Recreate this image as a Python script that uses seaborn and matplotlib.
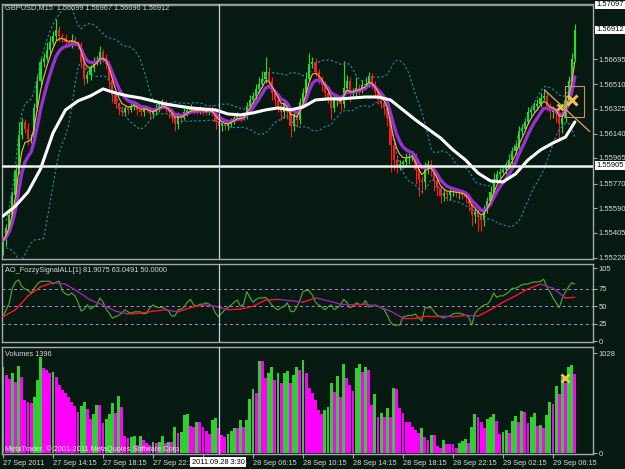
import numpy as np
import pandas as pd
import matplotlib
matplotlib.use("Agg")
import matplotlib.pyplot as plt
import matplotlib.transforms as mtransforms
from matplotlib.patches import Rectangle
import seaborn as sns

# GBPUSD M15, 27-29 Sep 2011
first_open = 1.5530
close = [1.5535, 1.5544, 1.5554, 1.5569, 1.5587, 1.5613, 1.5623, 1.5618, 1.5610, 1.5611,
         1.5633, 1.5653, 1.5667, 1.5670, 1.5676, 1.5682, 1.5687, 1.5691, 1.5687, 1.5685,
         1.5682, 1.5681, 1.5684, 1.5681, 1.5680, 1.5667, 1.5655, 1.5658, 1.5663, 1.5667,
         1.5669, 1.5675, 1.5670, 1.5666, 1.5654, 1.5643, 1.5636, 1.5632, 1.5630, 1.5633,
         1.5632, 1.5635, 1.5636, 1.5632, 1.5630, 1.5633, 1.5632, 1.5629, 1.5630, 1.5633,
         1.5635, 1.5637, 1.5633, 1.5630, 1.5626, 1.5621, 1.5627, 1.5626, 1.5630, 1.5632,
         1.5633, 1.5632, 1.5631, 1.5632, 1.5631, 1.5630, 1.5632, 1.5630, 1.5623, 1.5620,
         1.5621, 1.5620, 1.5621, 1.5624, 1.5626, 1.5627, 1.5626, 1.5627, 1.5635, 1.5639,
         1.5642, 1.5647, 1.5651, 1.5655, 1.5660, 1.5653, 1.5644, 1.5639, 1.5635, 1.5630,
         1.5636, 1.5630, 1.5620, 1.5628, 1.5624, 1.5638, 1.5644, 1.5655, 1.5666, 1.5667,
         1.5660, 1.5655, 1.5650, 1.5644, 1.5641, 1.5633, 1.5639, 1.5639, 1.5636, 1.5648,
         1.5653, 1.5644, 1.5645, 1.5648, 1.5647, 1.5650, 1.5651, 1.5657, 1.5651, 1.5645,
         1.5639, 1.5637, 1.5633, 1.5626, 1.5606, 1.5595, 1.5591, 1.5592, 1.5593, 1.5596,
         1.5597, 1.5598, 1.5587, 1.5580, 1.5578, 1.5589, 1.5592, 1.5589, 1.5580, 1.5574,
         1.5568, 1.5570, 1.5569, 1.5571, 1.5571, 1.5570, 1.5570, 1.5569, 1.5567, 1.5562,
         1.5554, 1.5556, 1.5552, 1.5550, 1.5558, 1.5564, 1.5571, 1.5580, 1.5584, 1.5586,
         1.5587, 1.5590, 1.5595, 1.5601, 1.5605, 1.5616, 1.5618, 1.5623, 1.5630, 1.5632,
         1.5635, 1.5636, 1.5641, 1.5642, 1.5635, 1.5630, 1.5632, 1.5629, 1.5621, 1.5626,
         1.5639, 1.5653, 1.56699, 1.56912]

# wick length beyond the body, in pips
wick_hi = [2, 3, 4, 3, 5, 10, 3, 2, 4, 3, 4, 5, 3, 4, 6, 5, 3, 8, 3, 2,
           3, 2, 4, 3, 2, 2, 3, 3, 2, 4, 3, 4, 2, 3, 2, 2, 3, 2, 3, 2,
           2, 3, 2, 2, 3, 2, 2, 3, 2, 3, 2, 3, 2, 2, 3, 2, 3, 2, 3, 2,
           3, 2, 2, 3, 2, 2, 2, 3, 2, 2, 2, 2, 3, 2, 2, 3, 2, 3, 3, 4,
           3, 4, 5, 6, 11, 4, 3, 2, 3, 2, 3, 2, 2, 4, 3, 3, 4, 5, 8, 4,
           3, 2, 2, 3, 2, 2, 4, 3, 2, 20, 5, 3, 3, 8, 3, 4, 5, 3, 2, 2,
           2, 3, 2, 2, 2, 2, 3, 3, 2, 4, 3, 3, 2, 2, 3, 4, 3, 3, 2, 2,
           2, 3, 2, 3, 2, 2, 3, 2, 2, 2, 2, 3, 2, 2, 3, 3, 4, 5, 3, 3,
           3, 3, 4, 3, 3, 4, 3, 3, 4, 3, 3, 4, 3, 5, 3, 2, 3, 2, 2, 4,
           3, 4, 4, 4]
wick_lo = [6, 4, 3, 3, 2, 3, 3, 3, 4, 3, 3, 2, 3, 3, 2, 3, 2, 3, 4, 3,
           3, 2, 3, 2, 3, 4, 5, 3, 4, 3, 2, 3, 3, 4, 6, 5, 3, 4, 3, 3,
           3, 2, 3, 4, 3, 3, 2, 4, 3, 2, 3, 2, 3, 4, 3, 5, 3, 4, 2, 3,
           2, 3, 2, 2, 3, 2, 2, 3, 5, 5, 4, 3, 3, 2, 3, 2, 3, 2, 2, 3,
           2, 2, 3, 2, 3, 4, 5, 4, 5, 6, 4, 5, 8, 4, 5, 3, 2, 3, 2, 3,
           3, 4, 4, 5, 4, 8, 3, 4, 5, 3, 3, 6, 3, 3, 4, 3, 3, 2, 4, 3,
           3, 4, 5, 6, 20, 8, 6, 4, 3, 3, 4, 3, 10, 12, 8, 4, 5, 6, 8, 6,
           5, 4, 5, 4, 3, 3, 4, 3, 4, 5, 8, 6, 10, 8, 4, 3, 3, 2, 3, 3,
           2, 3, 2, 3, 2, 2, 3, 2, 2, 3, 2, 3, 2, 2, 4, 5, 4, 6, 10, 6,
           3, 2, 2, 2]

volume = [886, 803, 762, 824, 731, 896, 783, 546, 525, 515,
          577, 752, 989, 876, 855, 824, 834, 783, 700, 649,
          618, 577, 525, 484, 422, 484, 525, 453, 350, 402,
          494, 494, 309, 350, 402, 515, 412, 587, 474, 175,
          155, 165, 175, 82, 175, 134, 103, 82, 113, 103,
          113, 175, 103, 113, 113, 268, 206, 216, 391, 402,
          278, 268, 319, 319, 268, 227, 196, 340, 361, 258,
          185, 165, 196, 227, 258, 258, 340, 268, 340, 556,
          659, 618, 948, 948, 773, 824, 886, 752, 824, 721,
          824, 845, 721, 803, 886, 855, 958, 824, 670, 618,
          546, 443, 402, 443, 474, 721, 628, 793, 577, 917,
          773, 700, 639, 876, 917, 834, 886, 855, 494, 608,
          371, 412, 371, 464, 371, 670, 659, 464, 412, 319,
          319, 268, 237, 206, 258, 165, 134, 185, 185, 72,
          52, 134, 93, 93, 93, 52, 103, 124, 144, 103,
          268, 402, 371, 319, 258, 350, 371, 402, 330, 196,
          216, 237, 206, 330, 381, 319, 433, 422, 309, 371,
          412, 278, 288, 258, 391, 525, 505, 690, 608, 783,
          721, 886, 906, 814]

osc_fast = [35, 45, 55, 76, 85, 88, 79, 75, 73, 69, 76, 82, 86, 86, 86, 86, 82, 85, 86, 72,
            68, 66, 69, 65, 56, 43, 46, 52, 46, 49, 52, 62, 56, 46, 40, 33, 35, 37, 40, 45,
            42, 40, 42, 42, 42, 39, 40, 48, 52, 49, 48, 49, 46, 43, 36, 36, 45, 46, 49, 56,
            60, 52, 50, 53, 53, 55, 53, 50, 40, 35, 40, 45, 48, 52, 56, 59, 50, 53, 71, 63,
            56, 60, 62, 62, 63, 58, 52, 48, 45, 48, 50, 55, 43, 42, 49, 59, 71, 73, 72, 66,
            56, 52, 49, 45, 49, 52, 45, 48, 52, 60, 56, 48, 50, 55, 53, 52, 58, 49, 50, 52,
            50, 48, 45, 37, 27, 23, 23, 23, 35, 36, 37, 37, 39, 33, 29, 48, 48, 48, 42, 37,
            35, 33, 35, 36, 39, 40, 40, 39, 37, 35, 23, 40, 45, 49, 52, 53, 59, 69, 63, 65,
            65, 68, 71, 76, 76, 78, 81, 82, 82, 84, 85, 85, 86, 89, 78, 71, 62, 55, 48, 62,
            71, 78, 84, 82]

# slow lines sampled every 4 bars
slow_idx = list(range(0, 184, 4)) + [183]
osc_slow = [35, 45, 65, 78, 84, 82, 71, 59, 52, 43, 39, 40, 43, 45, 42, 48, 52, 50, 45, 46,
            50, 59, 60, 58, 56, 62, 58, 53, 52, 53, 50, 43, 33, 33, 36, 36, 35, 37, 36, 45,
            56, 65, 75, 82, 76, 62, 63]
ma_white = [1.55531, 1.55605, 1.55709, 1.55880, 1.56147, 1.56318, 1.56385, 1.56422, 1.56474, 1.56444,
            1.56422, 1.56407, 1.56385, 1.56362, 1.56347, 1.56333, 1.56325, 1.56318, 1.56288, 1.56281,
            1.56296, 1.56318, 1.56333, 1.56318, 1.56340, 1.56392, 1.56400, 1.56400, 1.56407, 1.56414,
            1.56414, 1.56392, 1.56318, 1.56244, 1.56177, 1.56110, 1.56021, 1.55947, 1.55850, 1.55791,
            1.55784, 1.55843, 1.55947, 1.56021, 1.56073, 1.56117, 1.56229]

hline_price = 1.55905
cursor_price = 1.57097
price_ticks = [1.56695, 1.56510, 1.56325, 1.56140, 1.55965, 1.55770, 1.55590, 1.55405, 1.55220]
boxed_prices = [1.57097, 1.56912, 1.55905]
osc_ticks = [105, 75, 50, 25, 0]
osc_levels = [75, 50, 25]
vol_ticks = [1028, 0]
time_ticks = [0, 16, 32, 48, 64, 80, 96, 112, 128, 144, 160, 176]
time_labels = ["27 Sep 2011", "27 Sep 14:15", "27 Sep 18:15", "27 Sep 22:15", "28 Sep 02:15",
               "28 Sep 06:15", "28 Sep 10:15", "28 Sep 14:15", "28 Sep 18:15", "28 Sep 22:15",
               "29 Sep 02:15", "29 Sep 06:15"]
cursor_bar = 69.1
trend_x = [173.3, 187.8]
trend_y = [1.56466, 1.56157]

BG = "#061a12"
FG = "#d8d8d8"
EDGE = "#a8a8a8"
BULL = "#22e022"
BEAR = "#ff1a1a"

sns.set_style("dark", {"axes.facecolor": BG, "figure.facecolor": BG})
plt.rcParams["font.family"] = ["Liberation Sans", "DejaVu Sans"]
FS = 5.5

W, H = 625, 469
fig = plt.figure(figsize=(6.25, 4.69), dpi=100)


def panel(top, bottom):
    return fig.add_axes([2 / W, 1 - bottom / H, 591 / W, (bottom - top) / H])


ax_p = panel(4, 259)
ax_o = panel(264, 342)
ax_v = panel(347, 454)

# ---- price panel
idx = np.arange(len(close))
c = np.array(close)
o = np.r_[first_open, c[:-1]]
top = np.maximum(o, c)
bot = np.minimum(o, c)
hi = top + np.array(wick_hi) * 1e-4
lo = bot - np.array(wick_lo) * 1e-4
col = np.where(c >= o, BULL, BEAR)
ax_p.vlines(idx, lo, hi, colors=col, lw=0.8, zorder=2)
ax_p.bar(idx, np.maximum(top - bot, 0.00004), bottom=bot, width=0.7, color=col,
         linewidth=0, zorder=2)

s = pd.Series(c)
ema_fast = s.ewm(span=4, adjust=False).mean()
ema_mid = s.ewm(span=7, adjust=False).mean()
bb_mid = s.rolling(14, min_periods=2).mean()
bb_sd = s.rolling(14, min_periods=2).std()

for band in (bb_mid + 1.6 * bb_sd, bb_mid - 1.6 * bb_sd):
    sns.lineplot(x=idx, y=band, ax=ax_p, color="#1e90b8", lw=0.8,
                 linestyle=(0, (2, 2)), zorder=3)
sns.lineplot(x=idx, y=ema_mid, ax=ax_p, color="#9a2fd6", lw=2.4, zorder=4)
sns.lineplot(x=idx, y=ema_fast, ax=ax_p, color="#ffb43c", lw=0.8, zorder=5)
sns.lineplot(x=slow_idx, y=ma_white, ax=ax_p, color="white", lw=2.2, zorder=6)

ax_p.axhline(hline_price, color="#f0f0f0", lw=1.8, zorder=6)
ax_p.axhline(cursor_price, color="#8a8a8a", lw=1.0, zorder=6)
sns.lineplot(x=trend_x, y=trend_y, ax=ax_p, color="#e8a070", lw=0.9, zorder=7)
ax_p.add_patch(Rectangle((179.8, 1.56266), 6.1, 0.0023, fill=False, ec="#d09060",
                         lw=0.8, zorder=7))
ax_p.plot([182.0], [1.56392], marker="x", ms=7, mew=2.2, color="#f4c050", zorder=9)
ax_p.plot([178.3], [1.56340], marker="x", ms=5, mew=1.8, color="#f4c050", zorder=9)

ax_p.set_ylim(1.55212, 1.57104)
ax_p.set_yticks(price_ticks)
ax_p.set_yticklabels([f"{p:.5f}" for p in price_ticks])
ax_p.set_xticks([])

bt = mtransforms.blended_transform_factory(ax_p.transAxes, ax_p.transData)
for p in boxed_prices:
    ax_p.text(1.0055, p, f"{p:.5f}", transform=bt, ha="left", va="center", fontsize=FS,
              color="black", clip_on=False, zorder=10,
              bbox=dict(boxstyle="square,pad=0.1", fc="white", ec="none"))

# ---- oscillator panel
for lv in osc_levels:
    ax_o.axhline(lv, color="#b48ad0", lw=0.7, ls=(0, (3, 3)), zorder=1)
sns.lineplot(x=idx, y=osc_fast, ax=ax_o, color="#4cb02c", lw=0.8, zorder=3)
for k in range(len(slow_idx) - 1):
    seg_col = "#ff1030" if osc_slow[k + 1] >= osc_slow[k] else "#a020b0"
    ax_o.plot(slow_idx[k:k + 2], osc_slow[k:k + 2], color=seg_col, lw=1.0, zorder=4)
ax_o.set_ylim(-1.4, 110.9)
ax_o.set_yticks(osc_ticks)
ax_o.set_yticklabels([str(t) for t in osc_ticks])
ax_o.set_xticks([])

# ---- volumes panel
v = np.array(volume)
vcol = np.where(np.r_[True, v[1:] > v[:-1]], "#32cd32", "#ff00ff")
ax_v.bar(idx, v, width=0.95, color=vcol, linewidth=0, zorder=2)
ax_v.plot([179.8], [772], marker="x", ms=6, mew=2.0, color="#f4c050", zorder=9)
ax_v.set_ylim(-10, 1092)
ax_v.set_yticks(vol_ticks)
ax_v.set_yticklabels([str(t) for t in vol_ticks])
ax_v.set_xticks(time_ticks)
ax_v.set_xticklabels(time_labels, ha="left")
ax_v.tick_params(axis="x", bottom=True, length=3, width=0.8, pad=1.5, colors=EDGE,
                 labelcolor=FG, labelsize=5.3, direction="out")

for ax in (ax_p, ax_o, ax_v):
    ax.set_facecolor(BG)
    ax.grid(False)
    for sp in ax.spines.values():
        sp.set_visible(True)
        sp.set_color(EDGE)
        sp.set_linewidth(1.0)
    ax.set_xlim(-0.32, 188.8)
    ax.yaxis.tick_right()
    ax.tick_params(axis="y", which="both", right=True, left=False, labelright=True,
                   labelleft=False, length=3, width=0.8, pad=1.0, colors=EDGE,
                   labelcolor=FG, labelsize=FS, direction="out")
    ax.set_xlabel("")
    ax.set_ylabel("")
    ax.axvline(cursor_bar, color="#d0cce8", lw=0.9, zorder=8)

# ---- header texts
def ftext(x, y, s, **kw):
    fig.text(x / W, 1 - y / H, s, va="center", fontsize=5.3, **kw)


ftext(5, 8, "GBPUSD,M15  1.56699 1.56967 1.56696 1.56912", color=FG)
ftext(5, 271, "AO_FozzySignalALL[1] 81.9075 63.0491 50.0000", color=FG)
ftext(5, 355, "Volumes 1396", color=FG)
ftext(5, 449, "MetaTrader, \u00a9 2001-2011 MetaQuotes Software Corp.", color="#e8e8e8")
ftext(218, 462, "2011.09.28 3:30", color="black", ha="center",
      bbox=dict(boxstyle="square,pad=0.15", fc="white", ec="none"))

fig.savefig("out.png", dpi=100, facecolor=BG)
